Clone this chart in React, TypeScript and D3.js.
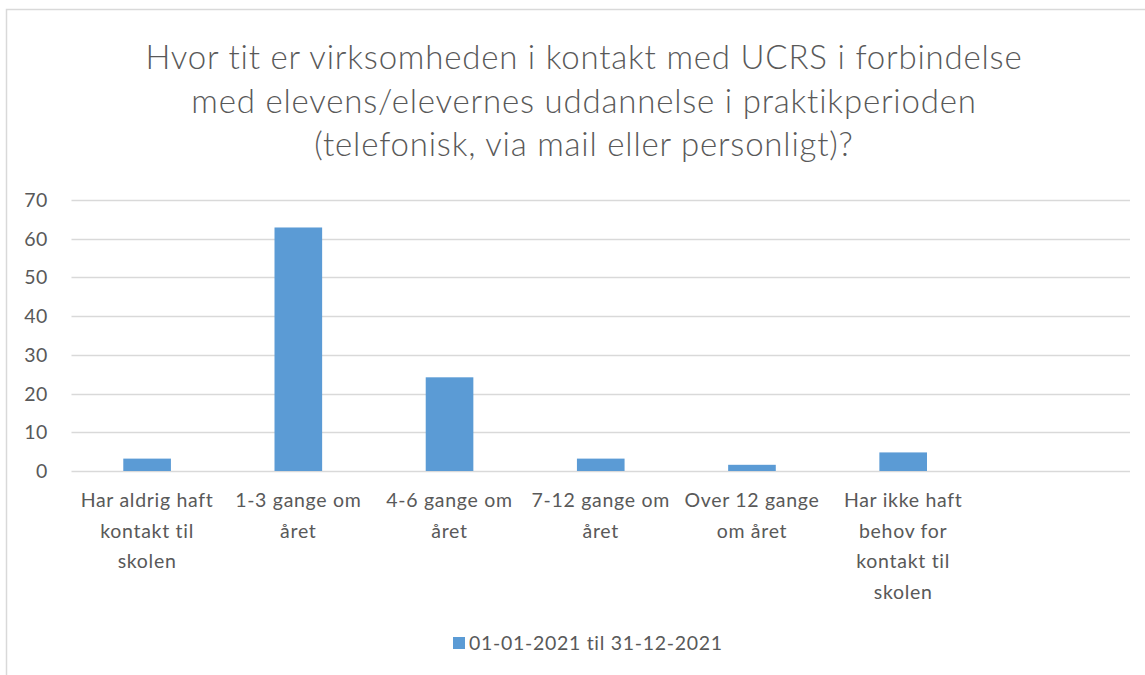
import { useEffect, useRef } from 'react';
import * as d3 from 'd3';

const categories = [
  ['Har aldrig haft', 'kontakt til', 'skolen'],
  ['1-3 gange om', 'året'],
  ['4-6 gange om', 'året'],
  ['7-12 gange om', 'året'],
  ['Over 12 gange', 'om året'],
  ['Har ikke haft', 'behov for', 'kontakt til', 'skolen'],
  [''],
];
const values = [3.2, 62.9, 24.2, 3.2, 1.6, 4.8, null];
const yTicks = [0, 10, 20, 30, 40, 50, 60, 70];
const titleLines = [
  'Hvor tit er virksomheden i kontakt med UCRS i forbindelse',
  'med elevens/elevernes uddannelse i praktikperioden',
  '(telefonisk, via mail eller personligt)?',
];
const seriesName = '01-01-2021 til 31-12-2021';

const App = () => {
  const svgRef = useRef<SVGSVGElement>(null!);
  const width = 1145;
  const height = 675;
  const font = 'Lato, "Open Sans", sans-serif';
  const textColor = '#595959';
  const barColor = '#5B9BD5';
  const gridColor = '#d9d9d9';

  useEffect(() => {
    const svg = d3.select(svgRef.current);
    svg.selectAll('*').remove();

    const left = 71.5;
    const right = 1130;
    const top = 200;
    const bottom = 471;
    const gap = 0.685;

    const xScale = d3
      .scaleBand<number>()
      .domain(d3.range(categories.length))
      .range([left, right])
      .paddingInner(gap)
      .paddingOuter(gap / 2);
    const yScale = d3.scaleLinear().domain([0, 70]).range([bottom, top]);

    // chart frame (right / bottom edges run off the page)
    svg
      .append('rect')
      .attr('x', 6.5)
      .attr('y', 9.5)
      .attr('width', 1160)
      .attr('height', 700)
      .attr('fill', 'none')
      .attr('stroke', gridColor)
      .attr('stroke-width', 1.5);

    // title
    svg
      .append('g')
      .selectAll('text')
      .data(titleLines)
      .enter()
      .append('text')
      .attr('x', 584)
      .attr('y', (_, i) => 69 + i * 43.5)
      .attr('text-anchor', 'middle')
      .attr('font-family', font)
      .attr('font-weight', 300)
      .attr('font-size', 33)
      .attr('letter-spacing', 0.8)
      .attr('fill', textColor)
      .text(d => d);

    // grid
    svg
      .append('g')
      .selectAll('line')
      .data(yTicks)
      .enter()
      .append('line')
      .attr('x1', left)
      .attr('x2', right)
      .attr('y1', d => Math.round(yScale(d)) + 0.5)
      .attr('y2', d => Math.round(yScale(d)) + 0.5)
      .attr('stroke', gridColor)
      .attr('stroke-width', 1.3);

    svg
      .append('g')
      .selectAll('text')
      .data(yTicks)
      .enter()
      .append('text')
      .attr('x', 48)
      .attr('y', d => yScale(d))
      .attr('dy', '0.36em')
      .attr('text-anchor', 'end')
      .attr('font-family', font)
      .attr('font-size', 19.5)
      .attr('letter-spacing', 0.6)
      .attr('fill', textColor)
      .text(d => d);

    // bars
    svg
      .append('g')
      .selectAll('rect')
      .data(values.map((v, i) => ({ v, i })).filter(d => d.v !== null))
      .enter()
      .append('rect')
      .attr('x', d => xScale(d.i)!)
      .attr('y', d => yScale(d.v as number))
      .attr('width', xScale.bandwidth())
      .attr('height', d => yScale(0) - yScale(d.v as number))
      .attr('fill', barColor);

    // category labels
    const labels = svg
      .append('g')
      .selectAll('text')
      .data(categories)
      .enter()
      .append('text')
      .attr('text-anchor', 'middle')
      .attr('font-family', font)
      .attr('font-size', 19.5)
      .attr('letter-spacing', 0.7)
      .attr('fill', textColor);
    labels
      .selectAll('tspan')
      .data((d, i) => d.map(line => ({ line, i })))
      .enter()
      .append('tspan')
      .attr('x', d => xScale(d.i)! + xScale.bandwidth() / 2)
      .attr('y', (_, j) => 507 + j * 30.5)
      .text(d => d.line);

    // legend
    const legend = svg.append('g');
    legend
      .append('rect')
      .attr('x', 453)
      .attr('y', 637)
      .attr('width', 12)
      .attr('height', 12)
      .attr('fill', barColor);
    legend
      .append('text')
      .attr('x', 469)
      .attr('y', 643)
      .attr('dy', '0.36em')
      .attr('font-family', font)
      .attr('font-size', 19.5)
      .attr('letter-spacing', 0.7)
      .attr('fill', textColor)
      .text(seriesName);
  }, []);

  return (
    <svg
      ref={svgRef}
      width={width}
      height={height}
      style={{ position: 'absolute', left: 0, top: 0, background: '#fff' }}
    ></svg>
  );
};

export default App;
